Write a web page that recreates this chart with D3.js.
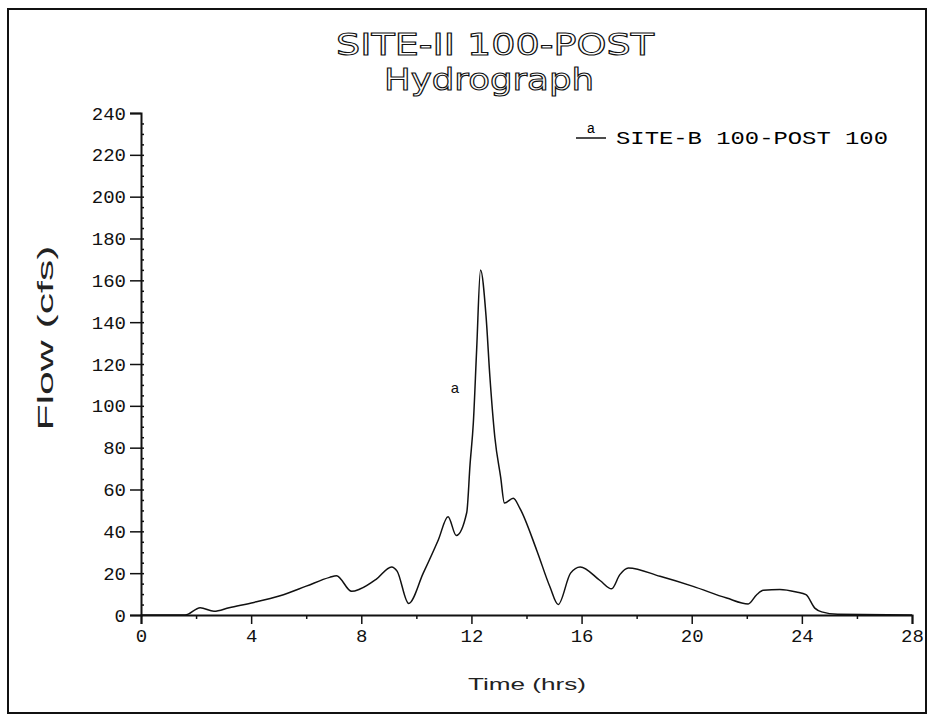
<!DOCTYPE html>
<html>
<head>
<meta charset="utf-8">
<script src="https://cdn.jsdelivr.net/npm/d3@7"></script>
<style>
  body { margin: 0; background: #fff; }
  svg { display: block; }
</style>
</head>
<body>
<div id="chart"></div>
<script>
// hydrograph: time (hrs) and flow (cfs)
const timeHrs = [0, 1.6, 2.15, 2.65, 3.2, 4.1, 5.05, 6.0, 6.85, 7.1, 7.65, 7.95, 8.55, 9.1, 9.3,
  9.72, 10.25, 10.8, 11.15, 11.45, 11.83, 11.95, 12.07, 12.19, 12.33, 12.53, 12.67, 12.85, 13.06,
  13.2, 13.52, 13.76, 14.37, 14.85, 15.15, 15.6, 15.95, 16.67, 17.09, 17.39, 17.7, 18.85, 20.05,
  21.27, 22.05, 22.36, 22.6, 23.2, 23.8, 24.15, 24.47, 24.72, 25.3, 28];
const flowCfs = [0, 0, 3.5, 1.8, 3.5, 6, 9.2, 13.8, 18, 18.8, 11.3, 12.4, 17.2, 23, 21,
  5.5, 20, 36, 47, 38, 49, 72, 92, 127, 165, 143, 114, 85, 66,
  53.5, 55.8, 51, 31, 13.5, 5, 20, 23, 16.5, 12.5, 19.3, 22.5, 18.5, 13.7,
  8.1, 5.3, 9.7, 11.8, 12.2, 11, 9.7, 3.3, 1.5, 0.3, 0];
const xTicks = [0, 4, 8, 12, 16, 20, 24, 28];
const yTicks = [0, 20, 40, 60, 80, 100, 120, 140, 160, 180, 200, 220, 240];
const seriesName = 'SITE-B 100-POST 100';
const seriesTag = 'a';
const tagAt = [11.4, 106];

const width = 930;
const height = 715;

const svg = d3.select('#chart').append('svg')
  .attr('width', width)
  .attr('height', height);

// page frame
svg.append('rect')
  .attr('x', 8).attr('y', 9)
  .attr('width', 918).attr('height', 704)
  .attr('fill', 'none')
  .attr('stroke', '#111')
  .attr('stroke-width', 2);

const x = d3.scaleLinear().domain([0, 28]).range([141, 912]);
const y = d3.scaleLinear().domain([0, 240]).range([615, 113]);

const mono = '"Liberation Mono", "DejaVu Sans Mono", monospace';

// x axis
svg.append('g')
  .attr('transform', `translate(0,${y(0)})`)
  .call(d3.axisBottom(x).tickValues(xTicks).tickSize(9).tickPadding(5).tickFormat(d3.format('d')));
svg.append('g')
  .attr('transform', `translate(0,${y(0)})`)
  .call(d3.axisBottom(x).tickValues(d3.range(2, 28, 4)).tickSize(4).tickFormat(''))
  .call(g => g.select('.domain').remove());

// y axis
svg.append('g')
  .attr('transform', `translate(${x(0)},0)`)
  .call(d3.axisLeft(y).tickValues(yTicks).tickSize(11).tickPadding(4).tickFormat(d3.format('d')));
svg.append('g')
  .attr('transform', `translate(${x(0)},0)`)
  .call(d3.axisRight(y).tickValues(d3.range(5, 240, 5)).tickSize(3).tickFormat(''))
  .call(g => g.select('.domain').remove());

svg.selectAll('.domain').attr('stroke', '#111').attr('stroke-width', 2);
svg.selectAll('.tick line').attr('stroke', '#111').attr('stroke-width', 1.5);
svg.selectAll('.tick text')
  .attr('font-family', mono)
  .attr('font-size', 19)
  .attr('fill', '#111');

// hydrograph line
const points = timeHrs.map((t, i) => [t, flowCfs[i]]);
const line = d3.line()
  .x(d => x(d[0]))
  .y(d => y(d[1]))
  .curve(d3.curveMonotoneX);

svg.append('path')
  .datum(points)
  .attr('d', line)
  .attr('fill', 'none')
  .attr('stroke', '#111')
  .attr('stroke-width', 1.5);

svg.append('text')
  .attr('x', x(tagAt[0]))
  .attr('y', y(tagAt[1]))
  .attr('text-anchor', 'middle')
  .attr('font-family', mono)
  .attr('font-size', 15)
  .attr('fill', '#111')
  .text(seriesTag);

// legend
const legend = svg.append('g').attr('transform', 'translate(576,138)');
legend.append('line')
  .attr('x1', 0).attr('x2', 30)
  .attr('stroke', '#111').attr('stroke-width', 1.5);
legend.append('text')
  .attr('x', 15).attr('y', -5)
  .attr('text-anchor', 'middle')
  .attr('font-family', mono).attr('font-size', 14)
  .text(seriesTag);
legend.append('text')
  .attr('x', 40).attr('y', 6)
  .attr('font-family', mono).attr('font-size', 18)
  .attr('textLength', 272).attr('lengthAdjust', 'spacingAndGlyphs')
  .text(seriesName);

// titles (outlined lettering)
svg.append('text')
  .attr('x', 495).attr('y', 55)
  .attr('text-anchor', 'middle')
  .attr('font-family', '"DejaVu Sans", sans-serif')
  .attr('font-size', 31)
  .attr('fill', '#fff').attr('stroke', '#111').attr('stroke-width', 1.1)
  .attr('textLength', 318).attr('lengthAdjust', 'spacingAndGlyphs')
  .text('SITE-II 100-POST');
svg.append('text')
  .attr('x', 489).attr('y', 90)
  .attr('text-anchor', 'middle')
  .attr('font-family', '"DejaVu Sans", sans-serif')
  .attr('font-size', 31)
  .attr('fill', '#fff').attr('stroke', '#111').attr('stroke-width', 1.1)
  .attr('textLength', 210).attr('lengthAdjust', 'spacingAndGlyphs')
  .text('Hydrograph');

// axis titles
svg.append('text')
  .attr('transform', 'translate(53,338) rotate(-90)')
  .attr('text-anchor', 'middle')
  .attr('font-family', '"Liberation Sans", sans-serif')
  .attr('font-size', 22)
  .attr('fill', '#222')
  .attr('textLength', 185).attr('lengthAdjust', 'spacingAndGlyphs')
  .text('Flow (cfs)');
svg.append('text')
  .attr('x', 527).attr('y', 690)
  .attr('text-anchor', 'middle')
  .attr('font-family', '"Liberation Sans", sans-serif')
  .attr('font-size', 16)
  .attr('fill', '#222')
  .attr('textLength', 118).attr('lengthAdjust', 'spacingAndGlyphs')
  .text('Time (hrs)');
</script>
</body>
</html>
